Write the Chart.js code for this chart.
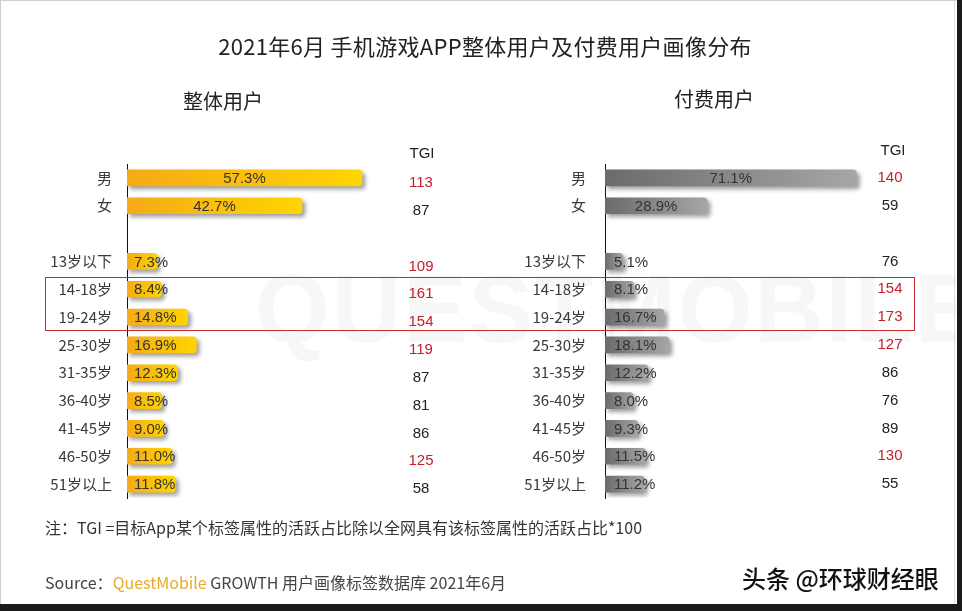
<!DOCTYPE html>
<html>
<head>
<meta charset="utf-8">
<script src="https://cdn.jsdelivr.net/npm/chart.js@4.4.1/dist/chart.umd.min.js"></script>
<style>
html,body{margin:0;padding:0;background:#fff;}
#wrap{position:relative;width:962px;height:611px;overflow:hidden;background:#fff;font-family:"Noto Sans CJK SC","Liberation Sans",sans-serif;}
.t{position:absolute;white-space:nowrap;line-height:1;}
canvas{position:absolute;top:0;}
</style>
</head>
<body>
<div id="wrap">
  <div class="t" style="left:255px;top:254px;font:bold 96px 'Liberation Sans',sans-serif;color:#f7f7f7;letter-spacing:2px;">QUESTMOBILE</div>
  <canvas id="c1" width="481" height="611" style="left:0px"></canvas>
  <canvas id="c2" width="481" height="611" style="left:481px"></canvas>

  <div class="t" style="left:4px;width:962px;text-align:center;top:34px;font-size:22px;color:#222;letter-spacing:0.3px;">2021年6月 手机游戏APP整体用户及付费用户画像分布</div>
  <div class="t" style="left:123px;width:200px;text-align:center;top:91px;font-size:20px;color:#222;">整体用户</div>
  <div class="t" style="left:614px;width:200px;text-align:center;top:89px;font-size:20px;color:#222;">付费用户</div>
  <div class="t" style="left:392px;width:60px;text-align:center;top:144px;font:15px 'Liberation Sans',sans-serif;color:#222;">TGI</div>
  <div class="t" style="left:863px;width:60px;text-align:center;top:141px;font:15px 'Liberation Sans',sans-serif;color:#222;">TGI</div>

  <div style="position:absolute;left:45px;top:277px;width:870px;height:54px;box-sizing:border-box;border:1px solid #C8282E;"></div>

  <div class="t" style="left:45px;top:519px;font-size:16px;color:#333;">注：TGI =目标App某个标签属性的活跃占比除以全网具有该标签属性的活跃占比*100</div>
  <div class="t" style="left:45px;top:574px;font-size:16px;color:#444;">Source：<span style="color:#E9A92A;">QuestMobile</span> GROWTH 用户画像标签数据库 2021年6月</div>
  <div class="t" style="left:742px;top:566px;font-size:24px;font-weight:500;color:#111;text-shadow:0 0 2px #fff,0 0 2px #fff;">头条 @环球财经眼</div>

  <div style="position:absolute;left:0;top:0;width:962px;height:1px;background:#cfcfcf;"></div>
  <div style="position:absolute;left:0;top:0;width:1px;height:611px;background:#cfcfcf;"></div>
  <div style="position:absolute;left:954px;top:0;width:1px;height:604px;background:#e0e0e0;"></div>
  <div style="position:absolute;left:957px;top:0;width:5px;height:611px;background:#1b1b1b;"></div>
  <div style="position:absolute;left:0;top:604px;width:962px;height:7px;background:#1b1b1b;"></div>
</div>
<script>
// ---- data ----
const categories = ['男','女','','13岁以下','14-18岁','19-24岁','25-30岁','31-35岁','36-40岁','41-45岁','46-50岁','51岁以上'];
const shareAll  = [57.3, 42.7, null, 7.3, 8.4, 14.8, 16.9, 12.3, 8.5, 9.0, 11.0, 11.8];
const sharePaid = [71.1, 28.9, null, 5.1, 8.1, 16.7, 18.1, 12.2, 8.0, 9.3, 11.5, 11.2];
const tgiAll    = [113, 87, null, 109, 161, 154, 119, 87, 81, 86, 125, 58];
const tgiPaid   = [140, 59, null, 76, 154, 173, 127, 86, 76, 89, 130, 55];
const centeredRows = ['男','女'];

const RED = '#C4202B', DARK = '#222';
const NUMFONT = '15px "Liberation Sans", Arial, sans-serif';

const shadowPlugin = {
  id: 'barShadow',
  beforeDatasetsDraw(chart) {
    const c = chart.ctx; c.save();
    c.shadowColor = 'rgba(0,0,0,0.38)'; c.shadowBlur = 4; c.shadowOffsetX = 3; c.shadowOffsetY = 3;
  },
  afterDatasetsDraw(chart) { chart.ctx.restore(); }
};

const labelPlugin = {
  id: 'valueLabels',
  afterDatasetsDraw(chart, args, opts) {
    const ctx = chart.ctx, meta = chart.getDatasetMeta(0), xs = chart.scales.x, ys = chart.scales.y;
    const data = chart.data.datasets[0].data;
    ctx.save();
    ctx.font = NUMFONT; ctx.textBaseline = 'middle';
    chart.data.labels.forEach((lab, i) => {
      const v = data[i];
      const y = ys.getPixelForValue(i);
      if (v != null) {
        const bar = meta.data[i];
        ctx.fillStyle = '#333';
        const txt = v.toFixed(1) + '%';
        if (centeredRows.includes(lab)) { ctx.textAlign = 'center'; ctx.fillText(txt, (bar.base + bar.x) / 2, y + 1); }
        else { ctx.textAlign = 'left'; ctx.fillText(txt, xs.left + opts.inset, y + 1); }
      }
      const t = opts.tgi[i];
      if (t != null) {
        ctx.textAlign = 'center';
        ctx.fillStyle = t > 100 ? RED : DARK;
        ctx.fillText(String(t), opts.tgiX, y + opts.tgiDy);
      }
    });
    ctx.restore();
  }
};

function makeChart(id, values, tgi, c0, c1, axisW, tickPad, padRight, inset, tgiX, tgiDy) {
  return new Chart(document.getElementById(id), {
    type: 'bar',
    data: {
      labels: categories,
      datasets: [{
        data: values,
        barThickness: 16,
        borderRadius: 4,
        borderSkipped: 'start',
        backgroundColor(c) {
          const ch = c.chart, a = ch.chartArea;
          if (!a || c.raw == null) return c0;
          const x1 = ch.scales.x.getPixelForValue(c.raw);
          const g = ch.ctx.createLinearGradient(a.left, 0, Math.max(x1, a.left + 1), 0);
          g.addColorStop(0, c0); g.addColorStop(1, c1);
          return g;
        }
      }]
    },
    options: {
      indexAxis: 'y',
      responsive: false,
      animation: false,
      layout: { padding: { left: 0, right: padRight, top: 164, bottom: 113 } },
      plugins: {
        legend: { display: false },
        tooltip: { enabled: false },
        valueLabels: { tgi: tgi, inset: inset, tgiX: tgiX, tgiDy: tgiDy }
      },
      scales: {
        x: { display: false, min: 0, max: 80 },
        y: {
          grid: { display: false, drawTicks: false },
          border: { display: true, color: '#111', width: 1 },
          ticks: { padding: tickPad, color: '#3a3a3a', font: { size: 15, family: '"Noto Sans CJK SC", sans-serif' } },
          afterFit(s) { s.width = axisW; }
        }
      }
    },
    plugins: [shadowPlugin, labelPlugin]
  });
}

makeChart('c1', shareAll, tgiAll, '#F5AA17', '#FFD500', 127, 15, 26, 7, 421, 5);
makeChart('c2', sharePaid, tgiPaid, '#6B6B6B', '#A6A6A6', 124, 19, 74, 9, 409, 0);
</script>
</body>
</html>
